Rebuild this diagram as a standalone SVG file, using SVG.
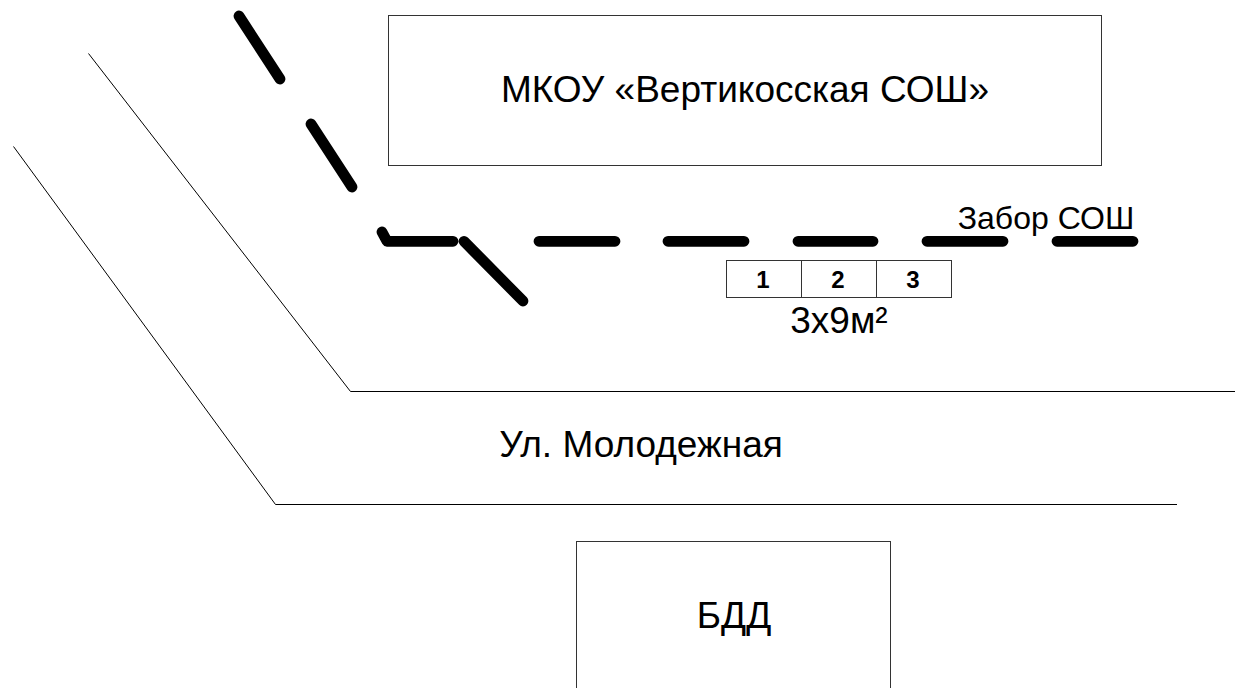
<svg xmlns="http://www.w3.org/2000/svg" width="1235" height="688" viewBox="0 0 1235 688">
<style>
.t{font-family:"Liberation Sans",Arial,sans-serif;fill:#000}
.box{fill:#fff;stroke:#333;stroke-width:1}
.thin{fill:none;stroke:#000;stroke-width:1}
.fence{fill:none;stroke:#000;stroke-width:10.800;stroke-linecap:round;stroke-linejoin:round}
</style>
<rect width="1235" height="688" fill="#fff"/>
<g id="roads">
<path class="thin" d="M88.500 53.500L350.500 391.500H1235"/>
<path class="thin" d="M13.500 146.500L275.500 504.500H1177"/>
</g>
<g id="connectors">
<path class="fence" d="M239 16L280 79M311 124L352 187M382 232L387 241.300H453M464 241.300L523 301M539 241.300H615M668 241.300H744M798 241.300H873M927 241.300H1003M1057 241.300H1133"/>
</g>
<g id="school"><rect class="box" x="388.500" y="15.500" width="713" height="150"/>
<text class="t" x="745" y="102" font-size="37" text-anchor="middle">МКОУ «Вертикосская СОШ»</text></g>
<g id="fence-label"><text class="t" x="1046" y="229" font-size="32" text-anchor="middle">Забор СОШ</text></g>
<g id="cell1"><rect class="box" x="726.500" y="260.500" width="75" height="37"/><text class="t" x="763" y="288" font-size="24" font-weight="bold" text-anchor="middle">1</text></g>
<g id="cell2"><rect class="box" x="801.500" y="260.500" width="75" height="37"/><text class="t" x="838" y="288" font-size="24" font-weight="bold" text-anchor="middle">2</text></g>
<g id="cell3"><rect class="box" x="876.500" y="260.500" width="75" height="37"/><text class="t" x="913" y="288" font-size="24" font-weight="bold" text-anchor="middle">3</text></g>
<g id="size-label"><text class="t" x="839" y="333" font-size="37" text-anchor="middle">3х9м²</text></g>
<g id="street"><text class="t" x="641" y="457" font-size="37" text-anchor="middle">Ул. Молодежная</text></g>
<g id="bdd"><rect class="box" x="576.500" y="541.500" width="314" height="160"/>
<text class="t" x="734" y="628" font-size="37" text-anchor="middle">БДД</text></g>
</svg>
